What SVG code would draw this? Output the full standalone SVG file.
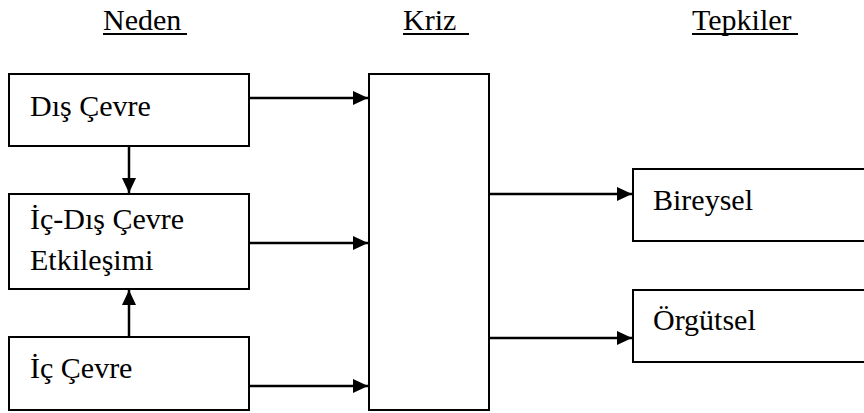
<svg xmlns="http://www.w3.org/2000/svg" width="864" height="413" viewBox="0 0 864 413">
  <style>
    .box { fill: #ffffff; stroke: #000000; stroke-width: 2; }
    .lbl { font-family: 'Liberation Serif', 'Times New Roman', serif; font-size: 30px; fill: #000000; }
    .uline { stroke: #000000; stroke-width: 2; }
    .conn { stroke: #000000; stroke-width: 2.5; fill: none; marker-end: url(#arrow); }
  </style>
  <defs>
    <marker id="arrow" markerUnits="userSpaceOnUse" markerWidth="15" markerHeight="14" refX="15" refY="7" orient="auto">
      <path d="M0,0 L15,7 L0,14 Z" fill="#000000"/>
    </marker>
  </defs>
  <rect width="864" height="413" fill="#ffffff"/>

  <!-- column headings with underlines -->
  <g id="headings">
    <text class="lbl" x="103" y="30">Neden</text>
    <line class="uline" x1="103" y1="34" x2="187" y2="34"/>
    <text class="lbl" x="403" y="30">Kriz</text>
    <line class="uline" x1="403" y1="34" x2="469" y2="34"/>
    <text class="lbl" x="692" y="30">Tepkiler</text>
    <line class="uline" x1="692" y1="34" x2="798" y2="34"/>
  </g>

  <g id="dis-cevre">
    <rect class="box" x="9" y="74" width="240" height="72"/>
    <text class="lbl" x="30" y="116">Dış Çevre</text>
  </g>

  <g id="ic-dis-etkilesim">
    <rect class="box" x="9" y="194" width="240" height="95"/>
    <text class="lbl" x="30" y="229">İç-Dış Çevre</text>
    <text class="lbl" x="30" y="270">Etkileşimi</text>
  </g>

  <g id="ic-cevre">
    <rect class="box" x="9" y="337" width="240" height="73"/>
    <text class="lbl" x="30" y="378">İç Çevre</text>
  </g>

  <g id="kriz">
    <rect class="box" x="369" y="74" width="120" height="336"/>
  </g>

  <g id="bireysel">
    <rect class="box" x="633" y="169" width="240" height="72"/>
    <text class="lbl" x="653" y="210">Bireysel</text>
  </g>

  <g id="orgutsel">
    <rect class="box" x="633" y="290" width="240" height="72"/>
    <text class="lbl" x="653" y="330">Örgütsel</text>
  </g>

  <!-- connectors -->
  <g id="connectors">
    <line class="conn" x1="249" y1="98" x2="368" y2="98"/>
    <line class="conn" x1="249" y1="243" x2="368" y2="243"/>
    <line class="conn" x1="249" y1="386" x2="368" y2="386"/>
    <line class="conn" x1="129" y1="146" x2="129" y2="193"/>
    <line class="conn" x1="129" y1="337" x2="129" y2="290"/>
    <line class="conn" x1="489" y1="194" x2="632" y2="194"/>
    <line class="conn" x1="489" y1="338" x2="632" y2="338"/>
  </g>
</svg>
